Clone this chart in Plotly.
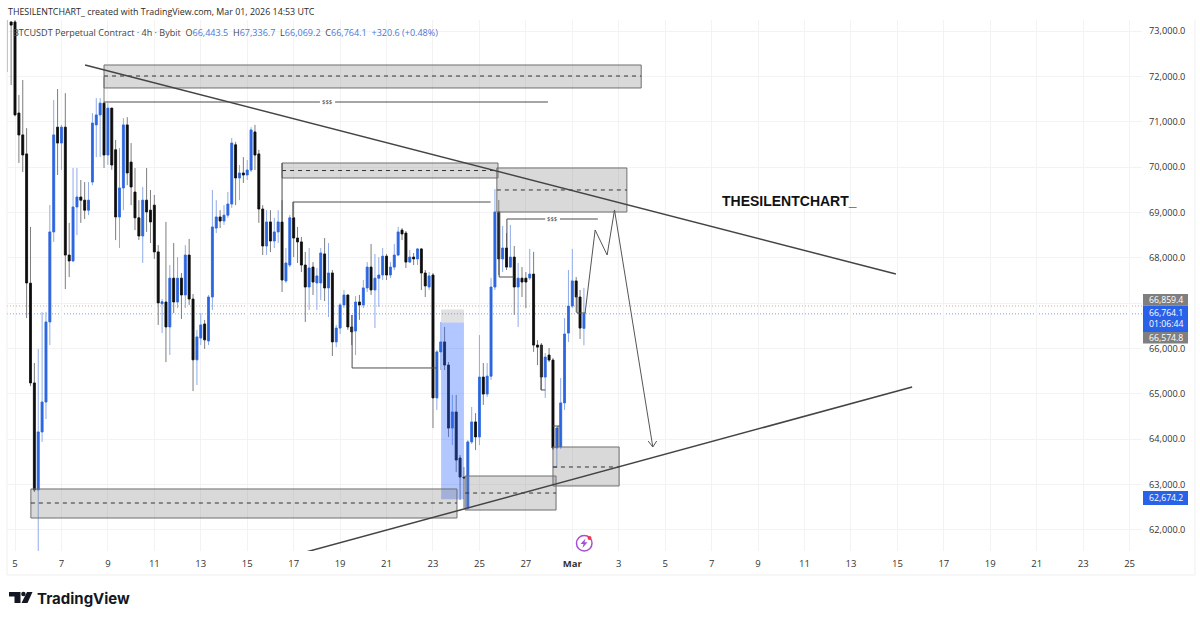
import pandas as pd
import plotly.graph_objects as go

FIRST_BAR = "2026-02-04 16:00"
opens = [74500,73200,73200,71192,70710,70290,67440,65240,62880,64160,64820,66585,68570,70880,70530,70880,68060,67930,69120,69340,69270,69050,69670,70930,71150,71410,70265,71300,70380,68900,69540,70930,70110,69450,68880,68480,69270,69050,69160,68130,66985,67025,66475,67550,67025,67550,67180,68060,67090,65750,66230,66540,66165,67135,68655,68900,68810,68940,69185,70490,69760,69870,69825,69935,70775,70290,69075,68260,68790,68370,68570,68790,67490,67840,68880,68435,68350,67840,67355,67795,67445,67445,68085,67335,67665,66145,66450,66960,67180,66475,66385,67025,66960,67335,67795,67290,67550,67620,68035,67620,67795,68060,68610,68545,67905,68015,67975,68195,67665,67355,67620,64910,65925,66145,65635,64245,64600,63585,63165,62480,63940,64380,64050,65370,64995,65390,67355,69010,67975,68215,67795,68015,67355,67550,67550,67555,67640,66075,66075,65370,65855,65745,63805,63830,64800,66340,66935,67490,67135,66443.5]
highs = [74600,73200,73240,71590,71920,70860,68680,65680,65990,66800,66800,69165,71480,71720,70930,71630,68770,69980,69980,69715,69670,69670,71190,71520,71520,71985,71410,71300,70600,70420,71080,71100,70530,69980,69270,69560,69980,69495,69385,68280,67090,68790,67840,68325,68015,67665,68280,68415,67200,66410,66780,66630,67180,69495,69270,69050,69160,69450,70640,70555,70045,70220,70155,70880,70930,70380,69160,69050,69050,68880,69050,69270,68215,68940,69230,68680,68460,68130,68215,67905,67775,68215,68435,68325,67730,66520,67000,67290,67180,66740,67155,67180,67510,67905,68305,68085,68015,68215,68085,67905,68305,68680,68655,68590,68170,68105,68215,68215,67730,67685,67665,65965,66585,66475,65700,64975,64975,63650,63385,63980,64710,64575,66295,65680,65680,67555,69515,69275,68700,68545,68725,68260,67885,67795,67685,68195,68130,66185,66120,65900,66010,65790,64270,65350,66670,67730,68195,67575,67290,67336.7]
lows = [72097,71810,71120,70090,69890,66670,65170,62835,61490,63940,64445,66075,68350,69825,69940,67310,67575,67905,68500,68770,68855,68940,69600,70220,70220,69980,70045,69940,68390,68215,69050,69600,69160,68610,68390,67885,68570,68325,67975,66520,66340,65700,65855,66780,66890,66650,66890,66960,65060,65195,66075,65990,66075,66850,68545,68655,68725,68880,69100,69160,69270,69650,69715,69890,69935,68770,68060,68060,68125,68215,68325,67245,67445,67795,68015,67885,67685,66585,66850,67180,66850,67070,67045,66695,65835,66030,66320,66890,66410,66075,65855,66630,66890,67245,67180,66450,66915,67510,67510,67555,67730,68035,68390,67775,67885,67840,67840,67290,67135,67290,64245,64645,65525,65525,64050,63870,63275,62660,62480,62440,63895,63760,63870,64755,64930,65305,67290,67620,67685,67730,67775,66740,66475,67135,66890,67510,65925,65635,65085,64910,65700,63760,63365,63785,64645,66145,66890,66805,66210,66069.2]
closes = [73700,73130,71150,70708,70267,67444,65240,62880,64160,64820,66585,68570,70710,70530,70880,68060,67930,69120,69340,69270,69050,69270,70970,71150,71410,70265,71300,70045,68900,69540,70930,69870,69560,68880,68480,69270,69010,68790,68130,67005,67030,66475,67550,67025,67550,67180,68060,67090,65750,66255,66520,66190,67135,68680,68900,68810,68940,69185,70530,69760,69870,69825,69935,70820,70265,69075,68260,68790,68370,68570,68790,67510,67885,68880,68435,68350,67840,67355,67775,67465,67600,68105,67335,67665,66145,66450,66960,67180,66475,66365,67025,66960,67335,67795,67290,67550,67620,68035,67620,67795,68060,68570,68525,67905,68015,67975,68195,67665,67380,67600,64910,65925,66145,65635,64245,64600,63540,63165,63145,63940,64380,64050,65370,64995,65390,67355,69010,67975,68215,67795,68015,67355,67550,67465,67465,67640,66075,66030,65370,65810,65745,63805,64245,64800,66320,66935,67490,67135,66450,66764.1]

price_ticks = [62000,63000,64000,65000,66000,67000,68000,69000,70000,71000,72000,73000]
# the 67,000.0 label sits behind the price tags in the reference
price_labels = ["62,000.0","63,000.0","64,000.0","65,000.0","66,000.0","","68,000.0","69,000.0","70,000.0","71,000.0","72,000.0","73,000.0"]
date_ticks = ["2026-02-05","2026-02-07","2026-02-09","2026-02-11","2026-02-13","2026-02-15","2026-02-17","2026-02-19","2026-02-21","2026-02-23","2026-02-25","2026-02-27","2026-03-01","2026-03-03","2026-03-05","2026-03-07","2026-03-09","2026-03-11","2026-03-13","2026-03-15","2026-03-17","2026-03-19","2026-03-21","2026-03-23","2026-03-25"]
date_labels = ["5","7","9","11","13","15","17","19","21","23","25","27","<b>Mar</b>","3","5","7","9","11","13","15","17","19","21","23","25"]

times = pd.date_range(FIRST_BAR, periods=len(opens), freq="4h")
ZERO = pd.Timestamp("2026-02-05")
def t(bar):
    return ZERO + pd.Timedelta(hours=4 * bar)

W, H = 1200, 621
L, R, T, B = 7, 1142, 20, 551
def px(x): return (x - L) / (R - L)
def py(y): return 1 - (y - T) / (B - T)

BLUE, BLUE_W = "#2b66e0", "#8fabe9"
BLACK, BLACK_W = "#0e0e0e", "#7d7d7d"
DRAW = "#4d4d4d"

fig = go.Figure()
fig.add_trace(go.Candlestick(
    x=times, open=opens, high=highs, low=lows, close=closes, whiskerwidth=0,
    increasing=dict(line=dict(color=BLUE_W, width=1), fillcolor=BLUE),
    decreasing=dict(line=dict(color=BLACK_W, width=1), fillcolor=BLACK),
    showlegend=False, hoverinfo="skip"))
fig.add_trace(go.Candlestick(
    x=times, open=opens, close=closes,
    high=[max(a, b) for a, b in zip(opens, closes)],
    low=[min(a, b) for a, b in zip(opens, closes)], whiskerwidth=0,
    increasing=dict(line=dict(color=BLUE, width=0.6), fillcolor=BLUE),
    decreasing=dict(line=dict(color=BLACK, width=0.6), fillcolor=BLACK),
    showlegend=False, hoverinfo="skip"))

shapes, notes = [], []
def seg(b0, p0, b1, p1, color=DRAW, width=1.0, dash="solid"):
    shapes.append(dict(type="line", xref="x", yref="y", x0=t(b0), y0=p0, x1=t(b1), y1=p1,
                       line=dict(color=color, width=width, dash=dash), layer="above"))
def box(b0, b1, p_low, p_high, mid=None):
    shapes.append(dict(type="rect", xref="x", yref="y", x0=t(b0), x1=t(b1), y0=p_low, y1=p_high,
                       fillcolor="rgba(128,128,128,0.30)", line=dict(color="#6f6f6f", width=1), layer="above"))
    if mid is not None:
        seg(b0, mid, b1, mid, color="#333333", width=1, dash="4px,4px")
def hline(price, color):
    shapes.append(dict(type="line", xref="paper", yref="y", x0=0, x1=1, y0=price, y1=price,
                       line=dict(color=color, width=1, dash="1px,2px"), layer="below"))

hline(66937, "#c9a9a9")
hline(66764.1, "#7f9fe8")

# long-position tool
shapes.append(dict(type="rect", xref="x", yref="y", x0=t(110.1), x1=t(116.0), y0=66574.8, y1=66859.4,
                   fillcolor="rgba(120,120,120,0.22)", line=dict(width=0), layer="above"))
shapes.append(dict(type="rect", xref="x", yref="y", x0=t(110.1), x1=t(116.0), y0=62674.2, y1=66574.8,
                   fillcolor="rgba(41,98,255,0.36)", line=dict(width=0), layer="above"))

box(23.0, 161.8, 71744, 72251, 72008)
box(69.0, 124.8, 69759, 70090, 69924)
box(124.5, 158.1, 69009, 69980, 69495)
box(4.1, 114.2, 62262, 62902, 62593)
box(116.3, 139.8, 62438, 63188, 62813)
box(139.0, 156.1, 62968, 63828, 63387)

seg(18.1, 72251, 227.6, 67642, width=1.5, color="#444444")
seg(74.2, 61490, 231.8, 65150, width=1.5, color="#444444")

seg(23.0, 71435, 78.8, 71435); seg(82.7, 71435, 137.7, 71435)
seg(127.1, 68855, 137.0, 68855); seg(140.8, 68855, 150.6, 68855); seg(127.1, 68855, 127.1, 68215)
seg(71.8, 69230, 122.9, 69230); seg(71.8, 69230, 71.8, 68900); seg(69.0, 70090, 69.0, 68790)
seg(87.1, 66738, 87.1, 65570); seg(87.1, 65570, 109.0, 65570)
seg(125.1, 69010, 125.1, 67576); seg(125.1, 67576, 128.9, 67576)
seg(145.2, 67179, 145.2, 66782); seg(145.2, 66782, 147.5, 66782)
seg(135.9, 66077, 135.9, 65085); seg(135.9, 65085, 137.0, 65085)
seg(139.0, 64290, 140.8, 64290); seg(140.3, 64290, 140.3, 63827)
seg(139.0, 63387, 140.0, 63387)

forecast_bars = [147.3, 149.9, 153.0, 154.9, 164.8]
forecast_prices = [66782, 68613, 68061, 69054, 63828]
for i in range(len(forecast_bars) - 1):
    seg(forecast_bars[i], forecast_prices[i], forecast_bars[i + 1], forecast_prices[i + 1], color="#555555")
seg(163.6, 63960, 164.8, 63828, color="#555555"); seg(165.8, 63960, 164.8, 63828, color="#555555")

def note(x, y, text, size=10, color="#333333", anchor="left", family="Open Sans, sans-serif", **kw):
    notes.append(dict(xref="paper", yref="paper", x=px(x), y=py(y), text=text, showarrow=False,
                      xanchor=anchor, yanchor="middle", xshift=0, align="left",
                      font=dict(size=size, color=color, family=family), borderpad=0, borderwidth=0, **kw))
def pshape(**kw):
    shapes.append(dict(xref="paper", yref="paper", layer="above", **kw))

notes.append(dict(xref="x", yref="y", x=t(80.7), y=71435, text="$$$", showarrow=False,
                  font=dict(size=6, color="#444444", family="Open Sans, sans-serif")))
notes.append(dict(xref="x", yref="y", x=t(138.9), y=68855, text="$$$", showarrow=False,
                  font=dict(size=6, color="#444444", family="Open Sans, sans-serif")))

note(7.5, 11, "THESILENTCHART_ created with TradingView.com, Mar 01, 2026 14:53 UTC", size=8.9, color="#2a2a2a")
V = '<span style="color:#4a78d8">%s</span>'
legend = ("BTCUSDT Perpetual Contract · 4h · Bybit  O" + V % "66,443.5" + "  H" + V % "67,336.7"
          + "  L" + V % "66,069.2" + "  C" + V % "66,764.1" + "  " + V % "+320.6 (+0.48%)")
note(12.5, 32, legend, size=9.05, color="#444444")
note(722, 201, "<b>THESILENTCHART_</b>", size=14, color="#111111", family="Liberation Sans, sans-serif")
note(37, 598.5, "<b>TradingView</b>", size=15, color="#131722", family="Inter, sans-serif")

def tag(y0, y1, color, text, fg="#ffffff"):
    pshape(type="rect", x0=px(1143), x1=px(1188), y0=py(y1), y1=py(y0), fillcolor=color, line=dict(width=0))
    note(1166, (y0 + y1) / 2, text, size=8.7, color=fg, anchor="center")
tag(294, 305.5, "#7f7f7f", "66,859.4")
tag(305.5, 332, "#2962e8", "66,764.1<br>01:06:44")
tag(332, 343.5, "#7f7f7f", "66,574.8")
tag(491, 505, "#2962e8", "62,674.2")

# page frame
for a in [dict(x0=px(7), x1=px(7), y0=py(575), y1=py(20)),
          dict(x0=px(7), x1=px(1195), y0=py(575), y1=py(575)),
          dict(x0=px(1195), x1=px(1195), y0=py(575), y1=py(20))]:
    pshape(type="line", line=dict(color="#efefef", width=1), **a)

# TradingView mark
def poly(points, color):
    d = "M " + " L ".join(f"{px(a)},{py(b)}" for a, b in points) + " Z"
    pshape(type="path", path=d, fillcolor=color, line=dict(width=0))
poly([(9, 592), (20.5, 592), (20.5, 603), (14.5, 603), (14.5, 596.5), (9, 596.5)], "#131722")
poly([(27, 592), (32.5, 592), (27.5, 603), (21.5, 603)], "#131722")
pshape(type="circle", x0=px(21.2), x1=px(25.6), y0=py(596.2), y1=py(591.8), fillcolor="#131722", line=dict(width=0))

# alert badge
pshape(type="circle", x0=px(576.5), x1=px(592), y0=py(551), y1=py(535.5), fillcolor="rgba(0,0,0,0)",
       line=dict(color="#a64fd4", width=1.5))
poly([(585.5, 538.5), (580.5, 544), (583.5, 544), (582.5, 548), (587.5, 542.3), (584.5, 542.3)], "#a64fd4")
pshape(type="circle", x0=px(587.5), x1=px(591.5), y0=py(540), y1=py(536), fillcolor="#f23645", line=dict(width=0))

fig.update_layout(
    width=W, height=H, autosize=False, showlegend=False,
    margin=dict(l=L, r=W - R, t=T, b=H - B),
    paper_bgcolor="#ffffff", plot_bgcolor="#ffffff",
    shapes=shapes, annotations=notes,
    font=dict(family="Open Sans, sans-serif", size=10, color="#333333"),
    xaxis=dict(type="date", range=[t(-2.07), t(291.2)], rangeslider=dict(visible=False),
               tickmode="array", tickvals=date_ticks, ticktext=date_labels, tickangle=0,
               showgrid=True, gridcolor="#f3f3f3", gridwidth=1, zeroline=False, showline=False,
               ticks="", ticklabelstandoff=5, tickfont=dict(size=9.5, color="#333333")),
    yaxis=dict(side="right", range=[61534.5, 73243], tickmode="array", tickvals=price_ticks,
               ticktext=price_labels, showgrid=True, gridcolor="#f3f3f3", gridwidth=1, zeroline=False,
               showline=False, ticks="", ticklabelstandoff=6, tickfont=dict(size=9.2, color="#333333")),
)
fig.write_html("out.html", config=dict(displayModeBar=False),
               post_script="document.body.style.margin='0';document.documentElement.style.overflow='hidden';")
